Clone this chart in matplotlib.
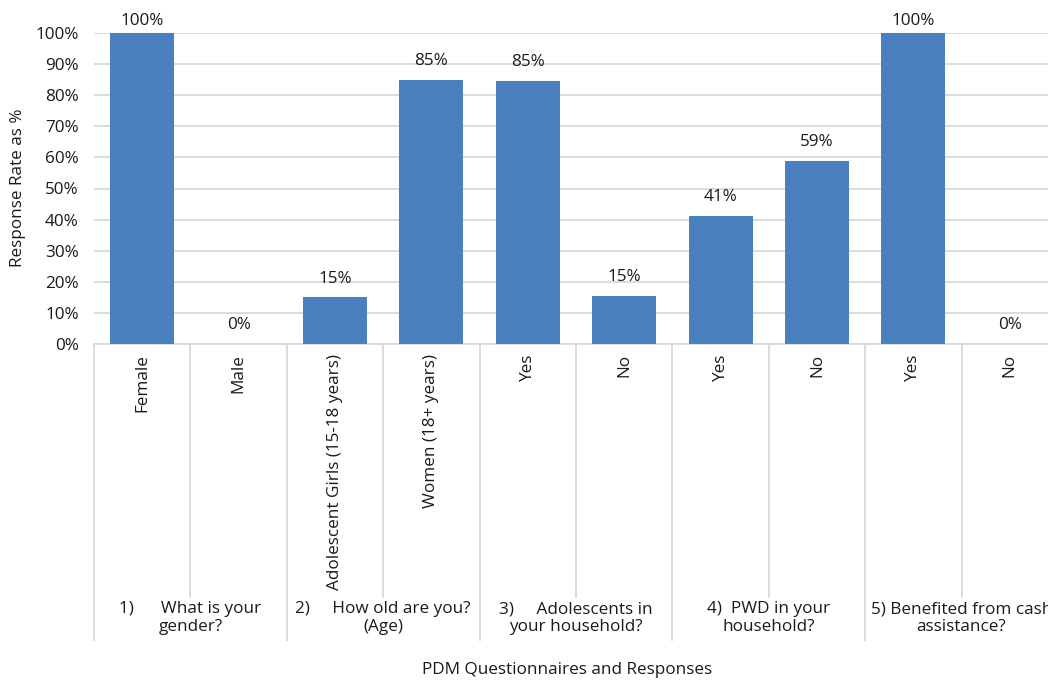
import matplotlib
matplotlib.use("Agg")
import matplotlib.pyplot as plt
import matplotlib.transforms as mtransforms
import numpy as np

plt.rcParams['font.family'] = ['Open Sans', 'DejaVu Sans']

# responses (tick labels) and their rates in %
responses = ["Female", "Male", "Adolescent Girls (15-18 years)", "Women (18+ years)",
             "Yes", "No", "Yes", "No", "Yes", "No"]
rates = [100, 0, 15, 85, 84.6, 15.4, 41.2, 58.8, 100, 0]
rate_labels = ["100%", "0%", "15%", "85%", "85%", "15%", "41%", "59%", "100%", "0%"]

# questions, each covering two responses
questions = ["1)      What is your\ngender?",
             "2)     How old are you?\n(Age)",
             "3)     Adolescents in\nyour household?",
             "4)  PWD in your\nhousehold?",
             "5) Benefited from cash\nassistance?"]
group_size = 2

bar_color = "#4a80bf"
grid_color = "#d9d9d9"
txt_color = "#1a1a1a"
fs = 12.3

fig = plt.figure(figsize=(10.48, 6.8), dpi=100)
# axis runs a bit past the right edge, like the original
ax = fig.add_axes([94/1048, 336/680, 964/1048, 311/680])

x = np.arange(len(responses))
ax.bar(x, rates, width=0.665, color=bar_color, zorder=3)

ax.set_xlim(-0.5, len(responses) - 0.5)
ax.set_ylim(0, 100)
ax.set_yticks(np.arange(0, 101, 10))
ax.set_yticklabels([f"{v}%" for v in range(0, 101, 10)])
ax.yaxis.grid(True, color=grid_color, linewidth=1.3, zorder=0)
ax.tick_params(axis='y', length=0, pad=11, labelsize=fs, labelcolor=txt_color)
for s in ["top", "right", "left"]:
    ax.spines[s].set_visible(False)
ax.spines["bottom"].set_color(grid_color)
ax.spines["bottom"].set_linewidth(1.3)

ax.set_xticks(x)
ax.set_xticklabels(responses, rotation=90, va='top', ha='center')
ax.tick_params(axis='x', length=0, pad=7, labelsize=fs, labelcolor=txt_color)

# value labels
for xi, v, lab in zip(x, rates, rate_labels):
    ax.text(xi, min(v + 6, 103.9), lab, ha='center', va='center', fontsize=fs,
            color=txt_color, clip_on=False)

# separator lines below the axis
trans = mtransforms.blended_transform_factory(ax.transData, ax.transAxes)
px = 1 / 311
for i in range(len(responses)):
    b = i - 0.5
    if i % group_size == 0:
        ax.plot([b, b], [0, -296 * px], color=grid_color, lw=1.3,
                transform=trans, clip_on=False)
    else:
        ax.plot([b, b], [0, -253 * px], color=grid_color, lw=1.3,
                transform=trans, clip_on=False)

# question labels
for g, q in enumerate(questions):
    cx = g * group_size + (group_size - 1) / 2
    ax.text(cx, -257 * px, q, ha='center', va='top', fontsize=fs,
            color=txt_color, linespacing=1.15, transform=trans, clip_on=False)

ax.text(0.5 - 9/964, -326 * px, "PDM Questionnaires and Responses", ha='center',
        va='center', fontsize=fs, color=txt_color, transform=ax.transAxes)
fig.text(18/1048, 1 - 188/680, "Response Rate as %", rotation=90, ha='center',
         va='center', fontsize=fs, color=txt_color)

fig.savefig("out.png", dpi=100)
